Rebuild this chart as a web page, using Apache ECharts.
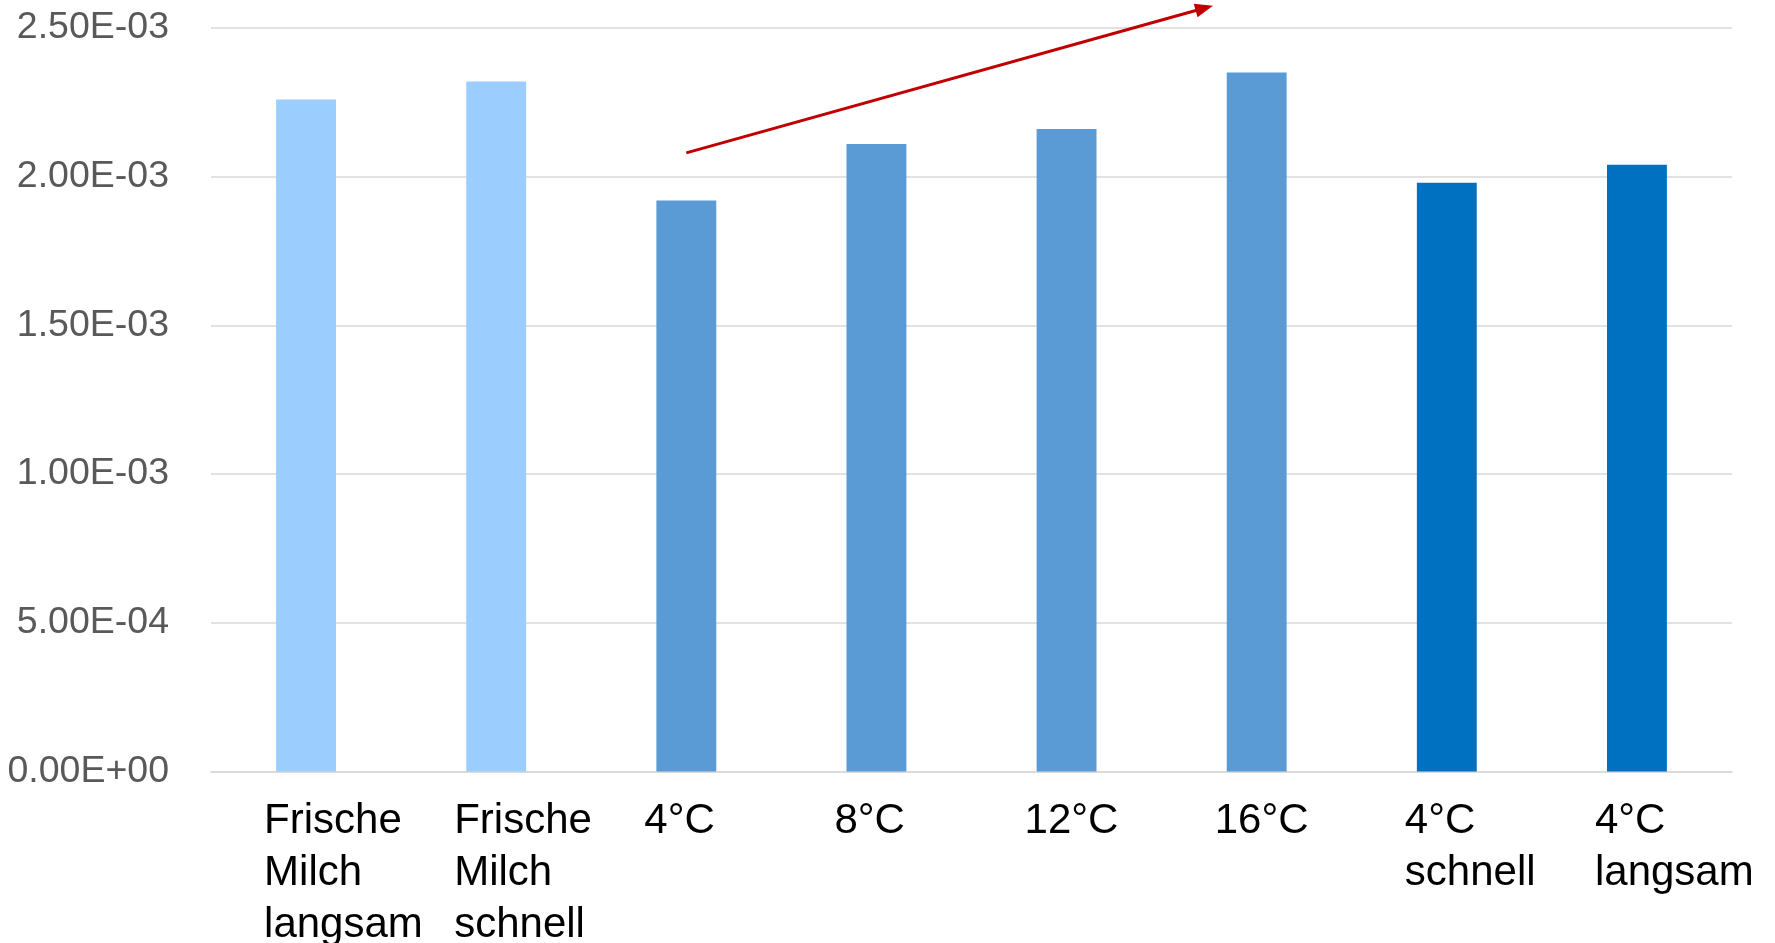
<!DOCTYPE html>
<html>
<head>
<meta charset="utf-8">
<script src="https://cdn.jsdelivr.net/npm/echarts@6/dist/echarts.min.js"></script>
<style>
  html, body { margin: 0; padding: 0; background: #ffffff; }
  #chart { width: 1775px; height: 943px; }
</style>
</head>
<body>
<div id="chart"></div>
<script>
// Categories: fresh milk samples, storage temperatures, cooling speed at 4 °C
const categories = [
  'Frische\nMilch\nlangsam',
  'Frische\nMilch\nschnell',
  '4°C',
  '8°C',
  '12°C',
  '16°C',
  '4°C\nschnell',
  '4°C\nlangsam'
];
const values = [0.00226, 0.00232, 0.00192, 0.00211, 0.00216, 0.00235, 0.00198, 0.00204];
// 0 = fresh milk, 1 = storage temperature, 2 = cooling speed
const groups = [0, 0, 1, 1, 1, 1, 2, 2];
const yMin = 0;
const yMax = 0.0025;
const yInterval = 0.0005;
// Trend arrow over the temperature series: [category index, value]
const trendStart = [2.0, 0.00208];
const trendEnd = [4.77, 0.002575];

const palette = ['#9BCDFF', '#5B9BD5', '#0070C0'];

function sci(v) {
  if (v === 0) return '0.00E+00';
  const parts = v.toExponential(2).split('e');
  const n = parseInt(parts[1], 10);
  return parts[0] + 'E' + (n < 0 ? '-' : '+') + String(Math.abs(n)).padStart(2, '0');
}

const chart = echarts.init(document.getElementById('chart'), null, { renderer: 'canvas' });

chart.setOption({
  animation: false,
  backgroundColor: '#ffffff',
  grid: {
    left: 211, right: 43, top: 28, bottom: 171.5,
    containLabel: false,
    outerBoundsMode: 'none'
  },
  xAxis: {
    type: 'category',
    data: categories,
    axisLine: { show: true, lineStyle: { color: '#D9D9D9', width: 1.5 } },
    axisTick: { show: false },
    axisLabel: {
      interval: 0,
      align: 'left',
      verticalAlign: 'top',
      margin: 24,
      padding: [0, 0, 0, -42],
      color: '#000000',
      fontFamily: '"Liberation Sans", Arial, sans-serif',
      fontSize: 42,
      lineHeight: 52
    }
  },
  yAxis: {
    type: 'value',
    min: yMin,
    max: yMax,
    interval: yInterval,
    axisLine: { show: false },
    axisTick: { show: false },
    splitLine: { lineStyle: { color: '#D9D9D9', width: 1.5 } },
    axisLabel: {
      margin: 42,
      color: '#595959',
      fontFamily: '"Liberation Sans Narrow", "Liberation Sans", Arial, sans-serif',
      fontSize: 37.5,
      formatter: sci
    }
  },
  series: [{
    type: 'bar',
    barWidth: '31.5%',
    data: values.map((v, i) => ({ value: v, itemStyle: { color: palette[groups[i]] } }))
  }]
});

// Pixel position of a fractional category index / value pair
function toPixel(pt) {
  const i0 = Math.floor(pt[0]);
  const f = pt[0] - i0;
  const a = chart.convertToPixel({ gridIndex: 0 }, [i0, yMin]);
  const b = chart.convertToPixel({ gridIndex: 0 }, [i0 + 1, yMin]);
  const top = chart.convertToPixel({ gridIndex: 0 }, [i0, yMax]);
  const x = a[0] + f * (b[0] - a[0]);
  const y = a[1] + (pt[1] - yMin) / (yMax - yMin) * (top[1] - a[1]);
  return [x, y];
}

const p0 = toPixel(trendStart);
const p1 = toPixel(trendEnd);
const dx = p1[0] - p0[0], dy = p1[1] - p0[1];
const len = Math.sqrt(dx * dx + dy * dy);
const ux = dx / len, uy = dy / len;
const headLen = 18, headHalf = 7;
const base = [p1[0] - ux * headLen, p1[1] - uy * headLen];

chart.setOption({
  graphic: [
    {
      type: 'line',
      shape: { x1: p0[0], y1: p0[1], x2: base[0] + ux * 2, y2: base[1] + uy * 2 },
      style: { stroke: '#C00000', lineWidth: 3 },
      silent: true
    },
    {
      type: 'polygon',
      shape: {
        points: [
          [p1[0], p1[1]],
          [base[0] - uy * headHalf, base[1] + ux * headHalf],
          [base[0] + uy * headHalf, base[1] - ux * headHalf]
        ]
      },
      style: { fill: '#C00000' },
      silent: true
    }
  ]
});
</script>
</body>
</html>
